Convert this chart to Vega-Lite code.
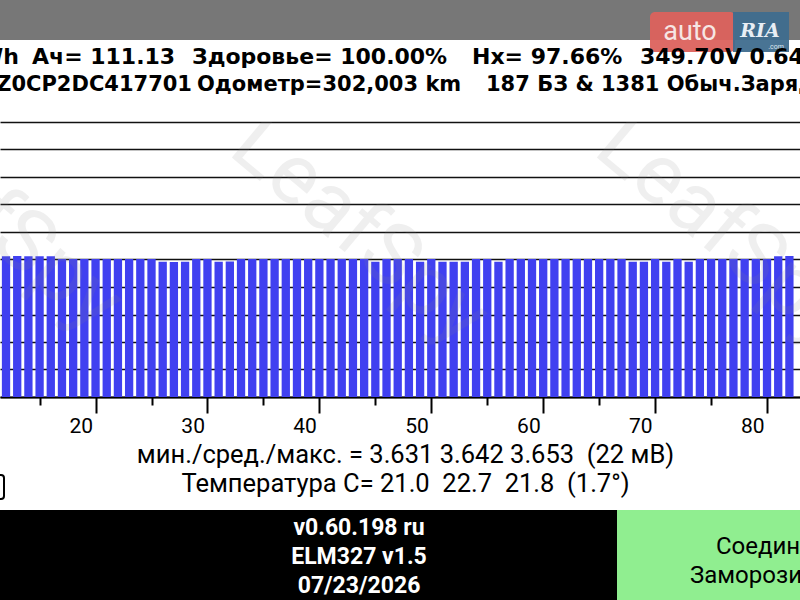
{
  "$schema": "https://vega.github.io/schema/vega-lite/v6.json",
  "padding": 0,
  "background": "white",
  "spacing": 0,
  "bounds": "flush",
  "config": {"view": {"stroke": null}},
  "vconcat": [
    {
      "width": 800,
      "height": 122,
      "data": {"values": [{}]},
      "layer": [
        {"mark": {"type": "rect", "color": "#777777"},
         "encoding": {
           "x": {"datum": 0, "type": "quantitative", "scale": {"domain": [0, 800], "nice": false, "zero": false}, "axis": null},
           "x2": {"datum": 800},
           "y": {"datum": 0, "type": "quantitative", "scale": {"domain": [0, 122], "nice": false, "zero": false, "reverse": true}, "axis": null},
           "y2": {"datum": 40}}},
        {"mark": {"type": "rect", "color": "#dc625d", "opacity": 0.95, "cornerRadius": 5},
         "encoding": {"x": {"datum": 650, "type": "quantitative", "axis": null}, "x2": {"datum": 735}, "y": {"datum": 12, "type": "quantitative", "axis": null}, "y2": {"datum": 52}}},
        {"mark": {"type": "rect", "color": "#3f6d8e", "opacity": 0.95},
         "encoding": {"x": {"datum": 733, "type": "quantitative", "axis": null}, "x2": {"datum": 789}, "y": {"datum": 12, "type": "quantitative", "axis": null}, "y2": {"datum": 52}}},
        {"mark": {"type": "text", "text": "auto", "font": "Roboto", "fontSize": 27, "color": "#f6e6e4", "align": "center", "baseline": "middle", "clip": true},
         "encoding": {"x": {"datum": 690, "type": "quantitative", "axis": null}, "y": {"datum": 32, "type": "quantitative", "axis": null}}},
        {"mark": {"type": "text", "text": "RIA", "font": "DejaVu Serif", "fontSize": 19, "fontWeight": "bold", "fontStyle": "italic", "color": "#e8eef4", "align": "center", "baseline": "middle", "clip": true},
         "encoding": {"x": {"datum": 760, "type": "quantitative", "axis": null}, "y": {"datum": 31, "type": "quantitative", "axis": null}}},
        {"mark": {"type": "text", "text": ".com", "font": "Roboto", "fontSize": 7, "color": "#dde6ee", "align": "center", "baseline": "middle", "clip": true},
         "encoding": {"x": {"datum": 776, "type": "quantitative", "axis": null}, "y": {"datum": 47, "type": "quantitative", "axis": null}}},
        {"mark": {"type": "text", "text": "Wh", "font": "DejaVu Sans", "fontSize": 22, "fontWeight": "bold", "color": "black", "align": "right", "baseline": "alphabetic", "clip": true},
         "encoding": {"x": {"datum": 19, "type": "quantitative", "axis": null}, "y": {"datum": 64, "type": "quantitative", "axis": null}}},
        {"mark": {"type": "text", "text": "Ач= 111.13", "font": "DejaVu Sans", "fontSize": 22, "fontWeight": "bold", "color": "black", "align": "left", "baseline": "alphabetic", "clip": true},
         "encoding": {"x": {"datum": 32, "type": "quantitative", "axis": null}, "y": {"datum": 64, "type": "quantitative", "axis": null}}},
        {"mark": {"type": "text", "text": "Здоровье= 100.00%", "font": "DejaVu Sans", "fontSize": 22, "fontWeight": "bold", "color": "black", "align": "left", "baseline": "alphabetic", "clip": true},
         "encoding": {"x": {"datum": 192, "type": "quantitative", "axis": null}, "y": {"datum": 64, "type": "quantitative", "axis": null}}},
        {"mark": {"type": "text", "text": "Hx= 97.66%", "font": "DejaVu Sans", "fontSize": 22, "fontWeight": "bold", "color": "black", "align": "left", "baseline": "alphabetic", "clip": true},
         "encoding": {"x": {"datum": 472, "type": "quantitative", "axis": null}, "y": {"datum": 64, "type": "quantitative", "axis": null}}},
        {"mark": {"type": "text", "text": "349.70V 0.64A", "font": "DejaVu Sans", "fontSize": 22, "fontWeight": "bold", "color": "black", "align": "left", "baseline": "alphabetic", "clip": true},
         "encoding": {"x": {"datum": 640, "type": "quantitative", "axis": null}, "y": {"datum": 64, "type": "quantitative", "axis": null}}},
        {"mark": {"type": "text", "text": "Z0CP2DC417701", "font": "DejaVu Sans", "fontSize": 21, "fontWeight": "bold", "color": "black", "align": "right", "baseline": "alphabetic", "clip": true},
         "encoding": {"x": {"datum": 192, "type": "quantitative", "axis": null}, "y": {"datum": 91, "type": "quantitative", "axis": null}}},
        {"mark": {"type": "text", "text": "Одометр=302,003 km", "font": "DejaVu Sans", "fontSize": 21, "fontWeight": "bold", "color": "black", "align": "left", "baseline": "alphabetic", "clip": true},
         "encoding": {"x": {"datum": 197, "type": "quantitative", "axis": null}, "y": {"datum": 91, "type": "quantitative", "axis": null}}},
        {"mark": {"type": "text", "text": "187 БЗ & 1381 Обыч.Зарядок", "font": "DejaVu Sans", "fontSize": 21, "fontWeight": "bold", "color": "black", "align": "left", "baseline": "alphabetic", "clip": true},
         "encoding": {"x": {"datum": 486, "type": "quantitative", "axis": null}, "y": {"datum": 91, "type": "quantitative", "axis": null}}}
      ]
    },
    {
      "width": 800,
      "height": 275,
      "layer": [
        {"data": {"values": [
          {"cell": 12, "volt": 3.652}, {"cell": 13, "volt": 3.653}, {"cell": 14, "volt": 3.652}, {"cell": 15, "volt": 3.652}, {"cell": 16, "volt": 3.652},
          {"cell": 17, "volt": 3.642}, {"cell": 18, "volt": 3.642}, {"cell": 19, "volt": 3.642}, {"cell": 20, "volt": 3.642}, {"cell": 21, "volt": 3.642},
          {"cell": 22, "volt": 3.642}, {"cell": 23, "volt": 3.642}, {"cell": 24, "volt": 3.642}, {"cell": 25, "volt": 3.642}, {"cell": 26, "volt": 3.632},
          {"cell": 27, "volt": 3.631}, {"cell": 28, "volt": 3.632}, {"cell": 29, "volt": 3.642}, {"cell": 30, "volt": 3.642}, {"cell": 31, "volt": 3.632},
          {"cell": 32, "volt": 3.633}, {"cell": 33, "volt": 3.642}, {"cell": 34, "volt": 3.642}, {"cell": 35, "volt": 3.642}, {"cell": 36, "volt": 3.642},
          {"cell": 37, "volt": 3.642}, {"cell": 38, "volt": 3.642}, {"cell": 39, "volt": 3.642}, {"cell": 40, "volt": 3.642}, {"cell": 41, "volt": 3.642},
          {"cell": 42, "volt": 3.642}, {"cell": 43, "volt": 3.642}, {"cell": 44, "volt": 3.642}, {"cell": 45, "volt": 3.632}, {"cell": 46, "volt": 3.642},
          {"cell": 47, "volt": 3.642}, {"cell": 48, "volt": 3.642}, {"cell": 49, "volt": 3.632}, {"cell": 50, "volt": 3.642}, {"cell": 51, "volt": 3.632},
          {"cell": 52, "volt": 3.632}, {"cell": 53, "volt": 3.632}, {"cell": 54, "volt": 3.642}, {"cell": 55, "volt": 3.642}, {"cell": 56, "volt": 3.632},
          {"cell": 57, "volt": 3.642}, {"cell": 58, "volt": 3.642}, {"cell": 59, "volt": 3.642}, {"cell": 60, "volt": 3.642}, {"cell": 61, "volt": 3.642},
          {"cell": 62, "volt": 3.642}, {"cell": 63, "volt": 3.642}, {"cell": 64, "volt": 3.642}, {"cell": 65, "volt": 3.642}, {"cell": 66, "volt": 3.642},
          {"cell": 67, "volt": 3.642}, {"cell": 68, "volt": 3.632}, {"cell": 69, "volt": 3.632}, {"cell": 70, "volt": 3.642}, {"cell": 71, "volt": 3.632},
          {"cell": 72, "volt": 3.642}, {"cell": 73, "volt": 3.632}, {"cell": 74, "volt": 3.642}, {"cell": 75, "volt": 3.642}, {"cell": 76, "volt": 3.642},
          {"cell": 77, "volt": 3.642}, {"cell": 78, "volt": 3.642}, {"cell": 79, "volt": 3.642}, {"cell": 80, "volt": 3.642}, {"cell": 81, "volt": 3.652},
          {"cell": 82, "volt": 3.653}
         ]},
         "mark": {"type": "bar", "clip": true, "width": 8.3, "color": "#4040f0"},
         "encoding": {
           "x": {"field": "cell", "type": "quantitative",
             "scale": {"domain": [11.909, 82.5], "nice": false, "zero": false},
             "axis": {"orient": "bottom", "values": [15, 20, 25, 30, 35, 40, 45, 50, 55, 60, 65, 70, 75, 80], "tickCount": 20,
               "labelExpr": "datum.value % 10 === 0 ? datum.label : ''",
               "grid": false, "domain": true, "domainColor": "black", "domainWidth": 2,
               "tickColor": "black", "tickWidth": 2,
               "tickSize": {"condition": {"test": "datum.value % 10 === 0", "value": 16}, "value": 8},
               "labelAlign": "right", "labelBaseline": "top", "labelFont": "Roboto", "labelFontSize": 21, "labelColor": "black",
               "labelPadding": 2, "labelOffset": -3, "labelFlush": false, "labelOverlap": false,
               "title": ["мин./сред./макс. = 3.631 3.642 3.653 \u00a0(22 мВ)", "Температура C= 21.0 \u00a022.7 \u00a021.8 \u00a0(1.7°)"],
               "titleFont": "Roboto", "titleFontWeight": "normal", "titleFontSize": 25.5, "titleColor": "black",
               "titleLineHeight": 29, "titlePadding": 6, "titleX": 405}},
           "y": {"field": "volt", "type": "quantitative",
             "scale": {"domain": [3.14, 4.14], "nice": false, "zero": false},
             "axis": {"labels": false, "ticks": false, "domain": false, "grid": true, "title": null, "tickCount": 12,
               "values": [3.14, 3.24, 3.34, 3.44, 3.54, 3.64, 3.74, 3.84, 3.94, 4.04, 4.14],
               "gridColor": "#111111", "gridWidth": 1.5, "gridOpacity": 1}},
           "y2": {"datum": 3.14}
         }},
        {"data": {"values": [{}]},
         "mark": {"type": "text", "text": "LeafSpy", "font": "Roboto", "fontSize": 85, "color": "#888888", "opacity": 0.13, "angle": 40, "align": "left", "baseline": "middle", "clip": true},
         "encoding": {"x": {"datum": 33.2, "type": "quantitative"}, "y": {"datum": 4.1, "type": "quantitative"}}},
        {"data": {"values": [{}]},
         "mark": {"type": "text", "text": "LeafSpy", "font": "Roboto", "fontSize": 85, "color": "#888888", "opacity": 0.13, "angle": 40, "align": "left", "baseline": "middle", "clip": true},
         "encoding": {"x": {"datum": 65.8, "type": "quantitative"}, "y": {"datum": 4.1, "type": "quantitative"}}},
        {"data": {"values": [{}]},
         "mark": {"type": "text", "text": "LeafSpy", "font": "Roboto", "fontSize": 85, "color": "#888888", "opacity": 0.13, "angle": 40, "align": "left", "baseline": "middle", "clip": true},
         "encoding": {"x": {"datum": 0.5, "type": "quantitative"}, "y": {"datum": 4.15, "type": "quantitative"}}}
      ]
    },
    {
      "width": 800,
      "height": 203,
      "data": {"values": [{}]},
      "layer": [
        {"mark": {"type": "rect", "color": "black"},
         "encoding": {
           "x": {"datum": 0, "type": "quantitative", "scale": {"domain": [0, 800], "nice": false, "zero": false}, "axis": null},
           "x2": {"datum": 617},
           "y": {"datum": 113, "type": "quantitative", "scale": {"domain": [0, 203], "nice": false, "zero": false, "reverse": true}, "axis": null},
           "y2": {"datum": 203}}},
        {"mark": {"type": "rect", "color": "#90ee90"},
         "encoding": {"x": {"datum": 617, "type": "quantitative", "axis": null}, "x2": {"datum": 800}, "y": {"datum": 113, "type": "quantitative", "axis": null}, "y2": {"datum": 203}}},
        {"mark": {"type": "rect", "fill": null, "stroke": "black", "strokeWidth": 2, "cornerRadius": 3, "clip": true},
         "encoding": {"x": {"datum": -20, "type": "quantitative", "axis": null}, "x2": {"datum": 4}, "y": {"datum": 78, "type": "quantitative", "axis": null}, "y2": {"datum": 102}}},
        {"mark": {"type": "text", "text": "v0.60.198 ru", "font": "Roboto", "fontSize": 23, "fontWeight": "bold", "color": "white", "align": "center", "baseline": "middle"},
         "encoding": {"x": {"datum": 359, "type": "quantitative", "axis": null}, "y": {"datum": 131, "type": "quantitative", "axis": null}}},
        {"mark": {"type": "text", "text": "ELM327 v1.5", "font": "Roboto", "fontSize": 23, "fontWeight": "bold", "color": "white", "align": "center", "baseline": "middle"},
         "encoding": {"x": {"datum": 359, "type": "quantitative", "axis": null}, "y": {"datum": 160, "type": "quantitative", "axis": null}}},
        {"mark": {"type": "text", "text": "07/23/2026", "font": "Roboto", "fontSize": 23, "fontWeight": "bold", "color": "white", "align": "center", "baseline": "middle"},
         "encoding": {"x": {"datum": 359, "type": "quantitative", "axis": null}, "y": {"datum": 189, "type": "quantitative", "axis": null}}},
        {"mark": {"type": "text", "text": "Соединить", "font": "Roboto", "fontSize": 24, "color": "black", "align": "left", "baseline": "middle", "clip": true},
         "encoding": {"x": {"datum": 716, "type": "quantitative", "axis": null}, "y": {"datum": 150, "type": "quantitative", "axis": null}}},
        {"mark": {"type": "text", "text": "Заморозить", "font": "Roboto", "fontSize": 24, "color": "black", "align": "left", "baseline": "middle", "clip": true},
         "encoding": {"x": {"datum": 690, "type": "quantitative", "axis": null}, "y": {"datum": 179, "type": "quantitative", "axis": null}}}
      ]
    }
  ]
}
